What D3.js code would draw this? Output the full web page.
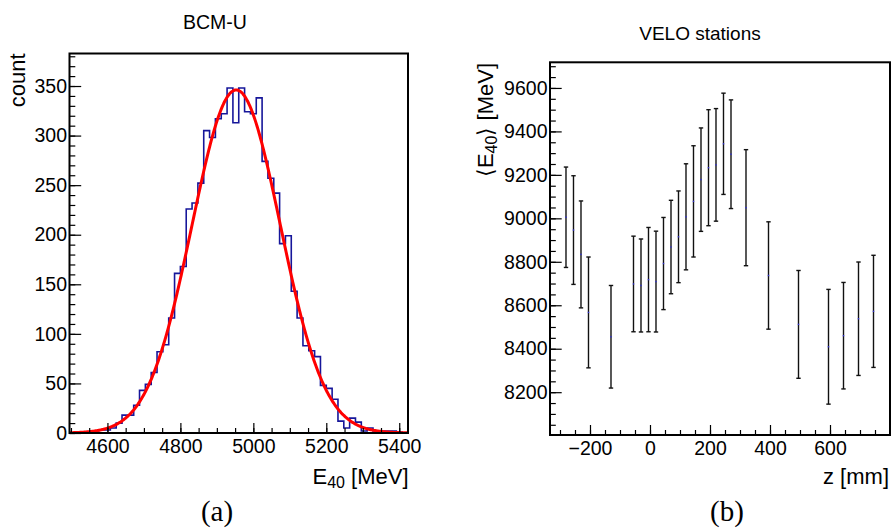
<!DOCTYPE html>
<html><head><meta charset="utf-8">
<script src="https://cdn.jsdelivr.net/npm/d3@7"></script>
<style>
body{margin:0;background:#fff}
svg{display:block}
text{font-family:"Liberation Sans",Arial,Helvetica,sans-serif;fill:#000}
</style>
</head><body>
<svg id="c" width="891" height="529"></svg>
<script>
// ---------- data: panel (a) BCM-U histogram ----------
const histStart = 4496;      // MeV, lower edge of first bin
const binWidth = 16;         // MeV
const histCounts = [0,1,1,1,2,3,3,5,10,18,18,28,43,49,61,82,89,116,161,168,226,232,252,305,298,317,322,348,313,348,324,322,338,274,257,242,191,199,143,116,88,83,77,48,45,34,12,5,15,11,2,5,2,2,2,2,1,0];
const fitParams = [346, 4953, 121];   // Gaussian fit: amplitude, mean, sigma
const histXDomain = [4496, 5424];
const histYDomain = [0, 382.8];
const histXTicks = [4600, 4800, 5000, 5200, 5400];
const histYTicks = [0, 50, 100, 150, 200, 250, 300, 350];

// ---------- data: panel (b) VELO stations ----------
const veloZ    = [-280,-255,-230,-205,-130,-55,-30,-5,20,45,70,95,120,145,170,195,220,245,270,320,395,495,595,645,695,745];
const veloMean = [9005,8946,8834,8567,8455,8698,8691,8718,8709,8792,8868,8915,9007,9078,9178,9233,9246,9343,9295,9049,8737,8512,8409,8460,8538,8572];
const veloErr  = [231,250,246,255,236,220,214,240,232,212,215,211,244,256,238,267,259,233,250,267,247,248,264,245,261,258];
const veloXDomain = [-333.3, 800];
const veloYDomain = [8003, 9718];
const veloXTicks = [-200, 0, 200, 400, 600];
const veloYTicks = [8200, 8400, 8600, 8800, 9000, 9200, 9400, 9600];

const svg = d3.select("#c");
const TICKFONT = 19.5, TITLEFONT = 22;

function frameAxes(g, x, y, opt) {
  const [x0, x1] = x.range(), [y0, y1] = y.range();
  g.append("g").attr("transform", `translate(0,${y0})`)
    .call(d3.axisBottom(x).tickValues(opt.xMinor).tickSize(-opt.xMinorLen).tickFormat(""))
    .call(s => s.select(".domain").remove());
  g.append("g").attr("transform", `translate(${x0},0)`)
    .call(d3.axisLeft(y).tickValues(opt.yMinor).tickSize(-opt.yMinorLen).tickFormat(""))
    .call(s => s.select(".domain").remove());
  const gx = g.append("g").attr("transform", `translate(0,${y0})`)
    .call(d3.axisBottom(x).tickValues(opt.xTicks).tickSize(-opt.xMajorLen).tickPadding(6).tickFormat(d3.format("")))
    .call(s => s.select(".domain").remove());
  const gy = g.append("g").attr("transform", `translate(${x0},0)`)
    .call(d3.axisLeft(y).tickValues(opt.yTicks).tickSize(-opt.yMajorLen).tickPadding(2.5).tickFormat(d3.format("")))
    .call(s => s.select(".domain").remove());
  [gx, gy].forEach(a => {
    a.selectAll("text").style("font-size", TICKFONT + "px").style("font-family", '"Liberation Sans",Arial,sans-serif');
    a.attr("font-size", null).attr("font-family", null);
  });
  g.selectAll(".tick line").attr("stroke", "#000").attr("stroke-width", 1.2);
  g.append("rect").attr("x", x0).attr("y", y1).attr("width", x1 - x0).attr("height", y0 - y1)
    .attr("fill", "none").attr("stroke", "#000").attr("stroke-width", 2);
}

// ================= panel (a) =================
{
  const x = d3.scaleLinear().domain(histXDomain).range([69.5, 408]);
  const y = d3.scaleLinear().domain(histYDomain).range([433, 53.5]);
  const g = svg.append("g");
  svg.append("clipPath").attr("id", "clipA").append("rect")
    .attr("x", 69.5).attr("y", 53.5).attr("width", 408 - 69.5).attr("height", 433 - 53.5);

  const pts = [[histStart, 0]];
  histCounts.forEach((c, k) => {
    pts.push([histStart + k * binWidth, c]);
    pts.push([histStart + (k + 1) * binWidth, c]);
  });
  pts.push([histStart + histCounts.length * binWidth, 0]);
  g.append("path").attr("clip-path", "url(#clipA)")
    .attr("d", d3.line().x(d => x(d[0])).y(d => y(d[1]))(pts))
    .attr("fill", "none").attr("stroke", "#16169a").attr("stroke-width", 1.6);

  const [A, mu, sg] = fitParams;
  const fx = d3.range(histXDomain[0], histXDomain[1] + 0.5, 2);
  g.append("path").attr("clip-path", "url(#clipA)")
    .attr("d", d3.line().x(d => x(d)).y(d => y(A * Math.exp(-0.5 * ((d - mu) / sg) ** 2))).curve(d3.curveMonotoneX)(fx))
    .attr("fill", "none").attr("stroke", "#ff0000").attr("stroke-width", 3);

  frameAxes(g, x, y, {
    xTicks: histXTicks, yTicks: histYTicks,
    xMinor: d3.range(4500, 5401, 50), yMinor: d3.range(0, 381, 10),
    xMajorLen: 10, xMinorLen: 5, yMajorLen: 11.7, yMinorLen: 5.8
  });

  svg.append("text").attr("x", 215).attr("y", 29.3).attr("text-anchor", "middle")
    .style("font-size", "19.5px").text("BCM-U");
  svg.append("text").attr("transform", "translate(25,53.5) rotate(-90)").attr("text-anchor", "end")
    .style("font-size", TITLEFONT + "px").text("count");
  const xt = svg.append("text").attr("x", 408.5).attr("y", 484).attr("text-anchor", "end")
    .style("font-size", TITLEFONT + "px");
  xt.append("tspan").text("E");
  xt.append("tspan").attr("dy", 4).style("font-size", "16px").text("40");
  xt.append("tspan").attr("dy", -4).text(" [MeV]");
}

// ================= panel (b) =================
{
  const x = d3.scaleLinear().domain(veloXDomain).range([550, 890]);
  const y = d3.scaleLinear().domain(veloYDomain).range([435, 62.3]);
  const g = svg.append("g");
  const pts = veloZ.map((z, i) => ({ z, m: veloMean[i], e: veloErr[i] }));
  const bars = g.append("g");
  bars.selectAll("line.bar").data(pts).join("line").attr("class", "bar")
    .attr("x1", d => x(d.z)).attr("x2", d => x(d.z))
    .attr("y1", d => y(d.m - d.e)).attr("y2", d => y(d.m + d.e))
    .attr("stroke", "#111").attr("stroke-width", 1.4);
  bars.selectAll("line.capT").data(pts).join("line").attr("class", "capT")
    .attr("x1", d => x(d.z) - 2.2).attr("x2", d => x(d.z) + 2.2)
    .attr("y1", d => y(d.m + d.e)).attr("y2", d => y(d.m + d.e))
    .attr("stroke", "#111").attr("stroke-width", 1.4);
  bars.selectAll("line.capB").data(pts).join("line").attr("class", "capB")
    .attr("x1", d => x(d.z) - 2.2).attr("x2", d => x(d.z) + 2.2)
    .attr("y1", d => y(d.m - d.e)).attr("y2", d => y(d.m - d.e))
    .attr("stroke", "#111").attr("stroke-width", 1.4);
  bars.selectAll("rect.pt").data(pts).join("rect").attr("class", "pt")
    .attr("x", d => x(d.z) - 0.7).attr("y", d => y(d.m) - 0.7).attr("width", 1.4).attr("height", 1.4)
    .attr("fill", "#3030d0");

  frameAxes(g, x, y, {
    xTicks: veloXTicks, yTicks: veloYTicks,
    xMinor: d3.range(-300, 751, 50), yMinor: d3.range(8050, 9701, 50),
    xMajorLen: 10, xMinorLen: 5, yMajorLen: 11.7, yMinorLen: 5.8
  });

  svg.append("text").attr("x", 700).attr("y", 39.5).attr("text-anchor", "middle")
    .style("font-size", "19px").text("VELO stations");
  const yt = svg.append("text").attr("transform", "translate(493,63) rotate(-90)").attr("text-anchor", "end")
    .style("font-size", TITLEFONT + "px");
  yt.append("tspan").text("\u27E8E");
  yt.append("tspan").attr("dy", 4).style("font-size", "16px").text("40");
  yt.append("tspan").attr("dy", -4).text("\u27E9 [MeV]");
  svg.append("text").attr("x", 889).attr("y", 484).attr("text-anchor", "end")
    .style("font-size", TITLEFONT + "px").text("z [mm]");
}

svg.append("text").attr("x", 217).attr("y", 521).attr("text-anchor", "middle")
  .style("font-family", '"Liberation Serif","DejaVu Serif",serif').style("font-size", "29px").text("(a)");
svg.append("text").attr("x", 727).attr("y", 521).attr("text-anchor", "middle")
  .style("font-family", '"Liberation Serif","DejaVu Serif",serif').style("font-size", "29px").text("(b)");
</script>
</body></html>
